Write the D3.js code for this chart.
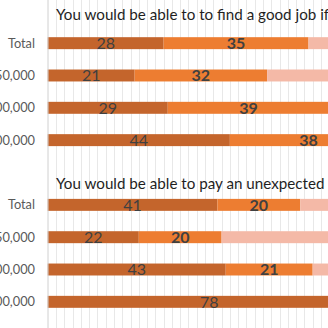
<!DOCTYPE html>
<html><head><meta charset="utf-8">
<script src="https://cdn.jsdelivr.net/npm/d3@7"></script>
<style>body{margin:0;background:#fff;overflow:hidden}svg{display:block}</style>
</head><body>
<script>
const categories = ["Total", "Less than $50,000", "$50,000-$100,000", "More than $100,000"];
const titles = ["You would be able to to find a good job if you lost yours",
                "You would be able to pay an unexpected expense"];
const seriesNames = ["Very", "Somewhat", "Not"];
const job_very = [28, 21, 29, 44];
const job_somewhat = [35, 32, 39, 38];
const job_not = [37, 47, 32, 18];
const exp_very = [41, 22, 43, 78];
const exp_somewhat = [20, 20, 21, 12];
const exp_not = [39, 58, 36, 10];
const gridTicks = d3.range(0, 101, 2);

const W = 328, H = 328;
const colors = ["#C4652C", "#ED7D31", "#F4B9A7"];
const font = "Lato, 'Open Sans', sans-serif";
const svg = d3.select("body").append("svg").attr("width", W).attr("height", H);

const x = d3.scaleLinear().domain([0, 100]).range([47.7, 461.7]);

// gridlines
svg.append("g").selectAll("line").data(gridTicks.slice(1)).join("line")
  .attr("x1", d => Math.round(x(d)) + 0.5).attr("x2", d => Math.round(x(d)) + 0.5)
  .attr("y1", 0).attr("y2", H).attr("stroke", "#e8e8e8").attr("stroke-width", 1);

// fit title font so that the visible part spans like the reference
const probe = svg.append("text").attr("font-family", font).attr("font-size", 20)
  .text("You would be able to to find a good job i");
const titleSize = 20 * 268 / probe.node().getComputedTextLength();
probe.remove();

const panels = [
  {title: titles[0], series: [job_very, job_somewhat, job_not], top: 27, titleY: 15},
  {title: titles[1], series: [exp_very, exp_somewhat, exp_not], top: 188.7, titleY: 183.3}
];

panels.forEach(p => {
  const y = d3.scaleBand().domain(categories).range([p.top, p.top + 129.3]).paddingInner(0.63).paddingOuter(0.315);
  const g = svg.append("g");
  const rows = categories.map((c, i) => {
    let acc = 0;
    return p.series.map((s, k) => { const seg = {cat: c, k, v: s[i], x0: acc, x1: acc + s[i]}; acc += s[i]; return seg; });
  }).flat();
  g.selectAll("rect").data(rows).join("rect")
    .attr("x", d => x(d.x0)).attr("width", d => x(d.x1) - x(d.x0))
    .attr("y", d => y(d.cat)).attr("height", y.bandwidth())
    .attr("fill", d => colors[d.k]);
  g.selectAll("text.lab").data(rows.filter(d => d.k < 2)).join("text").attr("class", "lab")
    .attr("x", d => x((d.x0 + d.x1) / 2)).attr("y", d => y(d.cat) + y.bandwidth() / 2)
    .attr("dy", "0.36em").attr("text-anchor", "middle")
    .attr("font-family", font).attr("font-size", 16)
    .attr("font-weight", d => d.k === 1 ? "bold" : "normal")
    .attr("fill", "#404040").text(d => d.v);
  g.selectAll("text.cat").data(categories).join("text").attr("class", "cat")
    .attr("x", 35).attr("y", d => y(d) + y.bandwidth() / 2).attr("dy", "0.36em")
    .attr("text-anchor", "end").attr("font-family", font)
    .attr("font-size", 12.8).attr("fill", "#595959").text(d => d);
  svg.append("text").attr("x", 56).attr("y", p.titleY).attr("dy", "0.36em")
    .attr("font-family", font).attr("font-size", titleSize)
    .attr("fill", "#1f1f1f").text(p.title);
});

// axis line
svg.append("line").attr("x1", 48).attr("x2", 48).attr("y1", 0).attr("y2", H)
  .attr("stroke", "#d0d0d0").attr("stroke-width", 1);
</script>
</body></html>
